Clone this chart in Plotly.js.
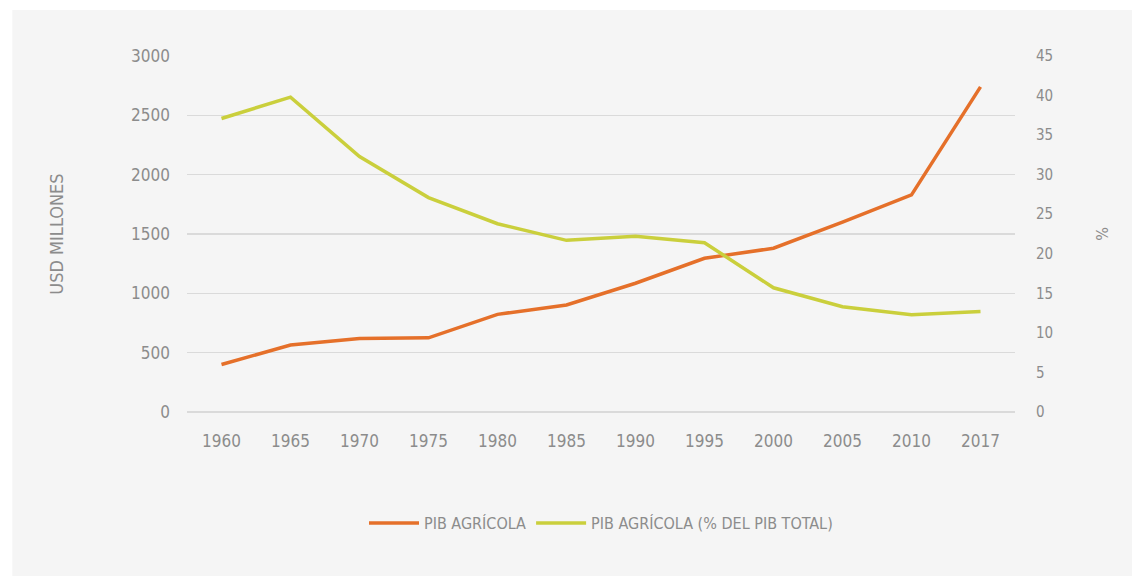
<!DOCTYPE html>
<html>
<head>
<meta charset="utf-8">
<script src="https://cdn.plot.ly/plotly-3.0.1.min.js"></script>
<style>html,body{margin:0;padding:0;background:#fff;}#chart{width:1132px;height:576px;}</style>
</head>
<body>
<div id="chart"></div>
<script>
const years = ["1960","1965","1970","1975","1980","1985","1990","1995","2000","2005","2010","2017"];
const pibAgricola = [400, 565, 620, 625, 823, 902, 1085, 1295, 1380, 1600, 1830, 2740];
const pibAgricolaPct = [37.1, 39.8, 32.3, 27.1, 23.8, 21.7, 22.2, 21.4, 15.7, 13.3, 12.3, 12.7];
const seriesNames = ["PIB AGRÍCOLA", "PIB AGRÍCOLA (% DEL PIB TOTAL)"];
const leftTicks = [0, 500, 1000, 1500, 2000, 2500, 3000];
const rightTicks = [0, 5, 10, 15, 20, 25, 30, 35, 40, 45];

const FONT = '"DejaVu Sans Condensed", "Liberation Sans Narrow", sans-serif';
const GREY = '#8c8c8c';

const traces = [
  {x: years, y: pibAgricola, name: seriesNames[0], type: 'scatter', mode: 'lines',
   line: {color: '#E5702A', width: 3.5}, yaxis: 'y'},
  {x: years, y: pibAgricolaPct, name: seriesNames[1], type: 'scatter', mode: 'lines',
   line: {color: '#CACF3C', width: 3.5}, yaxis: 'y2'}
];

const layout = {
  width: 1132, height: 576,
  margin: {l: 187, r: 117, t: 56, b: 164},
  paper_bgcolor: '#ffffff',
  plot_bgcolor: 'rgba(0,0,0,0)',
  font: {family: FONT, color: GREY, size: 17},
  showlegend: true,
  legend: {orientation: 'h', x: 0.5, xanchor: 'center', y: -0.312, yanchor: 'middle',
           itemwidth: 50,
           font: {family: FONT, size: 16, color: GREY}, bgcolor: 'rgba(0,0,0,0)', traceorder: 'normal'},
  xaxis: {type: 'category', range: [-0.5, 11.5], showgrid: false, zeroline: false, showline: false,
          ticks: '', ticklabelstandoff: 17, tickfont: {family: FONT, size: 17, color: GREY}, automargin: false, fixedrange: true},
  yaxis: {range: [0, 3000], tickvals: leftTicks, ticktext: leftTicks.map(String),
          showgrid: true, gridcolor: '#dadada', gridwidth: 1.5, zeroline: true, zerolinecolor: '#dadada', zerolinewidth: 1.5, showline: false,
          ticks: '', ticklabelstandoff: 16, tickfont: {family: FONT, size: 17, color: GREY},
          title: {text: 'USD MILLONES', font: {family: FONT, size: 18, color: GREY}, standoff: 62},
          automargin: false},
  yaxis2: {range: [0, 45], overlaying: 'y', side: 'right', tickvals: rightTicks,
           showgrid: false, zeroline: false, showline: false, ticks: '', ticklabelstandoff: 20,
           tickfont: {family: FONT, size: 15, color: GREY},
           title: {text: '%', font: {family: FONT, size: 16, color: GREY}, standoff: 44},
           automargin: false},
  shapes: [{type: 'rect', xref: 'paper', yref: 'paper', layer: 'below',
            x0: -0.211, x1: 1.15, y0: -0.47, y1: 1.129,
            fillcolor: '#f5f5f5', line: {width: 0}}]
};

Plotly.newPlot('chart', traces, layout, {displayModeBar: false, staticPlot: true});
</script>
</body>
</html>
